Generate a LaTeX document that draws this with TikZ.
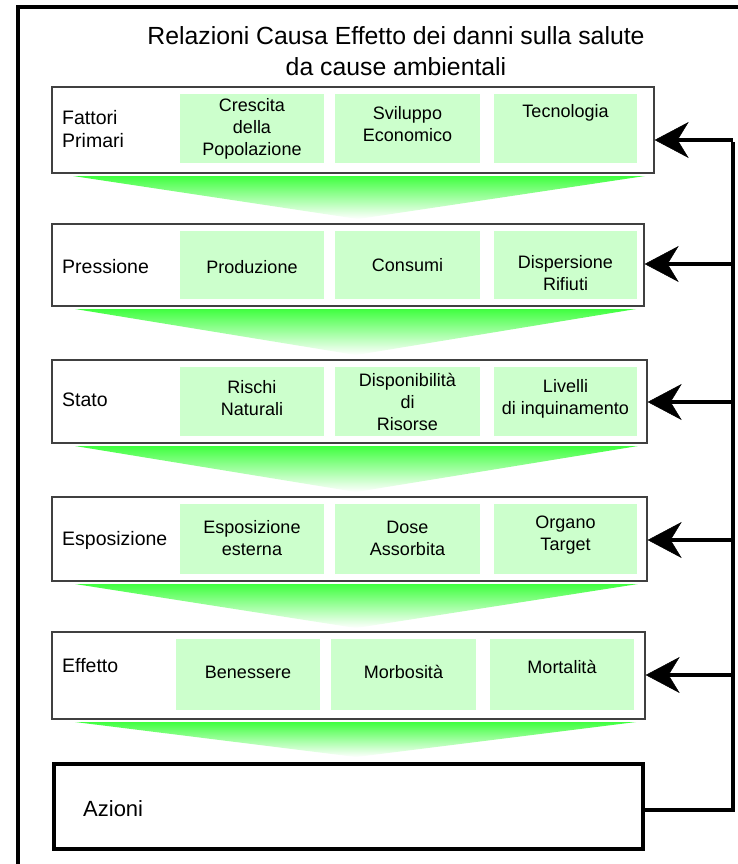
\documentclass[tikz,border=0pt]{standalone}
\usepackage{fontspec}
\setmainfont{Liberation Sans}
\usetikzlibrary{arrows.meta}
\definecolor{cellgreen}{RGB}{204,255,204}
\definecolor{fadegreen}{RGB}{64,255,64}
\begin{document}
\begin{tikzpicture}[x=1pt,y=-1pt,
  layerbox/.style={draw=black!75,line width=1.3pt,fill=white,inner sep=0pt},
  actionbox/.style={draw=black,line width=4pt,fill=white,inner sep=0pt},
  cell/.style={fill=cellgreen,inner sep=0pt,minimum height=69pt},
  celltext/.style={align=center,font=\fontsize{18}{22}\selectfont,inner sep=0pt},
  rowlabel/.style={anchor=west,align=left,font=\fontsize{19.5}{23}\selectfont,inner sep=0pt},
  titletext/.style={anchor=base,font=\fontsize{24.8}{28}\selectfont,inner sep=0pt},
  frame/.style={draw=black,line width=4pt},
  rail/.style={draw=black,line width=4pt},
  feedback/.style={draw=black,line width=4pt,
    -{Stealth[length=34pt,width=36pt,inset=11pt,line width=0.5pt]}},
  funnel/.style={top color=fadegreen,middle color=fadegreen!60!white,bottom color=white}
]
\useasboundingbox (0,0) rectangle (738,864);
\clip (0,0) rectangle (738,864);
\fill[white] (0,0) rectangle (738,864);

% outer frame (runs past the right and bottom edges)
\draw[frame] (18,7) rectangle (770,890);

% title
\node[titletext] (t1) at (396,45) {Relazioni Causa Effetto dei danni sulla salute};
\node[titletext] (t2) at (396,76) {da cause ambientali};

% funnels between the layers
\shade[funnel] (73,176) -- (645,176) -- (358,219) -- cycle;
\shade[funnel] (75,309) -- (636,309) -- (356,355) -- cycle;
\shade[funnel] (75,446) -- (638,446) -- (356,492) -- cycle;
\shade[funnel] (75,584) -- (638,584) -- (356,628) -- cycle;
\shade[funnel] (75,722) -- (636,722) -- (356,757) -- cycle;

% layer 1
\node[layerbox,minimum width=602pt,minimum height=86pt] (L1) at (353,130) {};
\node[rowlabel] (l1) at (62,129.5) {Fattori\\Primari};
\node[cell,minimum width=144pt] (c11) at (252,128.5) {};
\node[cell,minimum width=145pt] (c12) at (407.5,128.5) {};
\node[cell,minimum width=143pt] (c13) at (565.5,128.5) {};
\node[celltext] (x11) at (252,129) {Crescita\\della\\Popolazione};
\node[celltext] (x12) at (407.5,124.5) {Sviluppo\\Economico};
\node[celltext] (x13) at (565.5,113) {Tecnologia};

% layer 2
\node[layerbox,minimum width=592pt,minimum height=82pt] (L2) at (348,265) {};
\node[rowlabel] (l2) at (62,267) {Pressione};
\node[cell,minimum width=144pt,minimum height=68pt] (c21) at (252,265) {};
\node[cell,minimum width=145pt,minimum height=68pt] (c22) at (407.5,265) {};
\node[cell,minimum width=143pt,minimum height=68pt] (c23) at (565.5,265) {};
\node[celltext] (x21) at (252,267) {Produzione};
\node[celltext] (x22) at (407.5,265) {Consumi};
\node[celltext] (x23) at (565.5,273) {Dispersione\\Rifiuti};

% layer 3
\node[layerbox,minimum width=595pt,minimum height=83pt] (L3) at (349.5,401.5) {};
\node[rowlabel] (l3) at (62,400) {Stato};
\node[cell,minimum width=144pt] (c31) at (252,401.5) {};
\node[cell,minimum width=145pt] (c32) at (407.5,401.5) {};
\node[cell,minimum width=143pt] (c33) at (565.5,401.5) {};
\node[celltext] (x31) at (252,398.5) {Rischi\\Naturali};
\node[celltext] (x32) at (407.5,402) {Disponibilità\\di\\Risorse};
\node[celltext] (x33) at (565.5,398.5) {Livelli\\di inquinamento};

% layer 4
\node[layerbox,minimum width=595pt,minimum height=84pt] (L4) at (349.5,539) {};
\node[rowlabel] (l4) at (62,540) {Esposizione};
\node[cell,minimum width=144pt,minimum height=70pt] (c41) at (252,539) {};
\node[cell,minimum width=145pt,minimum height=70pt] (c42) at (407.5,539) {};
\node[cell,minimum width=143pt,minimum height=70pt] (c43) at (565.5,539) {};
\node[celltext] (x41) at (252,538.5) {Esposizione\\esterna};
\node[celltext] (x42) at (407.5,538.5) {Dose\\Assorbita};
\node[celltext] (x43) at (565.5,535) {Organo\\Target};

% layer 5
\node[layerbox,minimum width=593pt,minimum height=87pt] (L5) at (348.5,675.5) {};
\node[rowlabel] (l5) at (62,666) {Effetto};
\node[cell,minimum width=144pt,minimum height=71pt] (c51) at (248,674.5) {};
\node[cell,minimum width=145pt,minimum height=71pt] (c52) at (403.5,674.5) {};
\node[cell,minimum width=144pt,minimum height=71pt] (c53) at (562,674.5) {};
\node[celltext] (x51) at (248,672) {Benessere};
\node[celltext] (x52) at (403.5,672) {Morbosità};
\node[celltext] (x53) at (562,667) {Mortalità};

% actions
\node[actionbox,minimum width=589pt,minimum height=85pt] (A) at (348.5,806.5) {};
\node[rowlabel,font=\fontsize{22}{26}\selectfont] (la) at (83,809) {Azioni};

% feedback rail
\coordinate (r1) at (733,140);
\coordinate (r2) at (733,264);
\coordinate (r3) at (733,402);
\coordinate (r4) at (733,540);
\coordinate (r5) at (733,675);
\coordinate (rb) at (733,810);
\draw[rail] (A.east |- rb) -- (rb) -- ([yshift=-2pt]r1);
\draw[feedback] (r1) -- (r1 -| L1.east);
\draw[feedback] (r2) -- (r2 -| L2.east);
\draw[feedback] (r3) -- (r3 -| L3.east);
\draw[feedback] (r4) -- (r4 -| L4.east);
\draw[feedback] (r5) -- (r5 -| L5.east);
\end{tikzpicture}
\end{document}
